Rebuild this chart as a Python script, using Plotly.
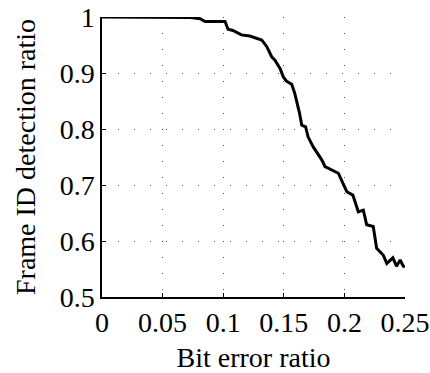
import plotly.graph_objects as go

ber = [0.0, 0.07, 0.073, 0.081, 0.085, 0.1015, 0.104, 0.108, 0.115, 0.122, 0.1318,
       0.136, 0.140, 0.1427, 0.1469, 0.1496, 0.1524, 0.1565, 0.159, 0.163, 0.1648,
       0.168, 0.170, 0.1743, 0.1785, 0.1813, 0.184, 0.195, 0.202, 0.207, 0.2115,
       0.2156, 0.2184, 0.2238, 0.2266, 0.232, 0.235, 0.240, 0.243, 0.246, 0.2486, 0.25]
ratio = [1.0, 1.0, 0.999, 0.997, 0.992, 0.992, 0.978, 0.976, 0.968, 0.966, 0.959,
         0.947, 0.929, 0.923, 0.908, 0.893, 0.885, 0.880, 0.864, 0.828, 0.807,
         0.804, 0.786, 0.768, 0.754, 0.745, 0.733, 0.721, 0.688, 0.682, 0.652,
         0.655, 0.629, 0.626, 0.587, 0.575, 0.560, 0.570, 0.555, 0.566, 0.555, 0.554]

x_ticks = [0, 0.05, 0.1, 0.15, 0.2, 0.25]
x_labels = ["0", "0.05", "0.1", "0.15", "0.2", "0.25"]
y_ticks = [0.5, 0.6, 0.7, 0.8, 0.9, 1.0]
y_labels = ["0.5", "0.6", "0.7", "0.8", "0.9", "1"]

font = dict(family="Liberation Serif, Times New Roman, serif", size=28, color="black")

fig = go.Figure()
fig.add_trace(go.Scatter(x=ber, y=ratio, mode="lines",
                         line=dict(color="black", width=3), showlegend=False,
                         cliponaxis=False))

axis_common = dict(
    showline=True, linecolor="black", linewidth=1.5, mirror=False,
    ticks="inside", ticklen=4, tickcolor="black", tickwidth=1,
    showgrid=True, gridcolor="#555555", gridwidth=1, griddash="1px,15px",
    zeroline=False, tickfont=font, automargin=False,
)

fig.update_xaxes(range=[0, 0.25], tickvals=x_ticks, ticktext=x_labels,
                 title=dict(text="Bit error ratio", font=font, standoff=11),
                 **axis_common)
fig.update_yaxes(range=[0.5, 1.0], tickvals=y_ticks, ticktext=y_labels,
                 title=dict(text="Frame ID detection ratio", font=font, standoff=16),
                 **axis_common)

fig.update_layout(
    width=430, height=373,
    margin=dict(l=102, r=25, t=17, b=76),
    paper_bgcolor="white", plot_bgcolor="white",
    font=font,
)

fig.write_html("out.html")
